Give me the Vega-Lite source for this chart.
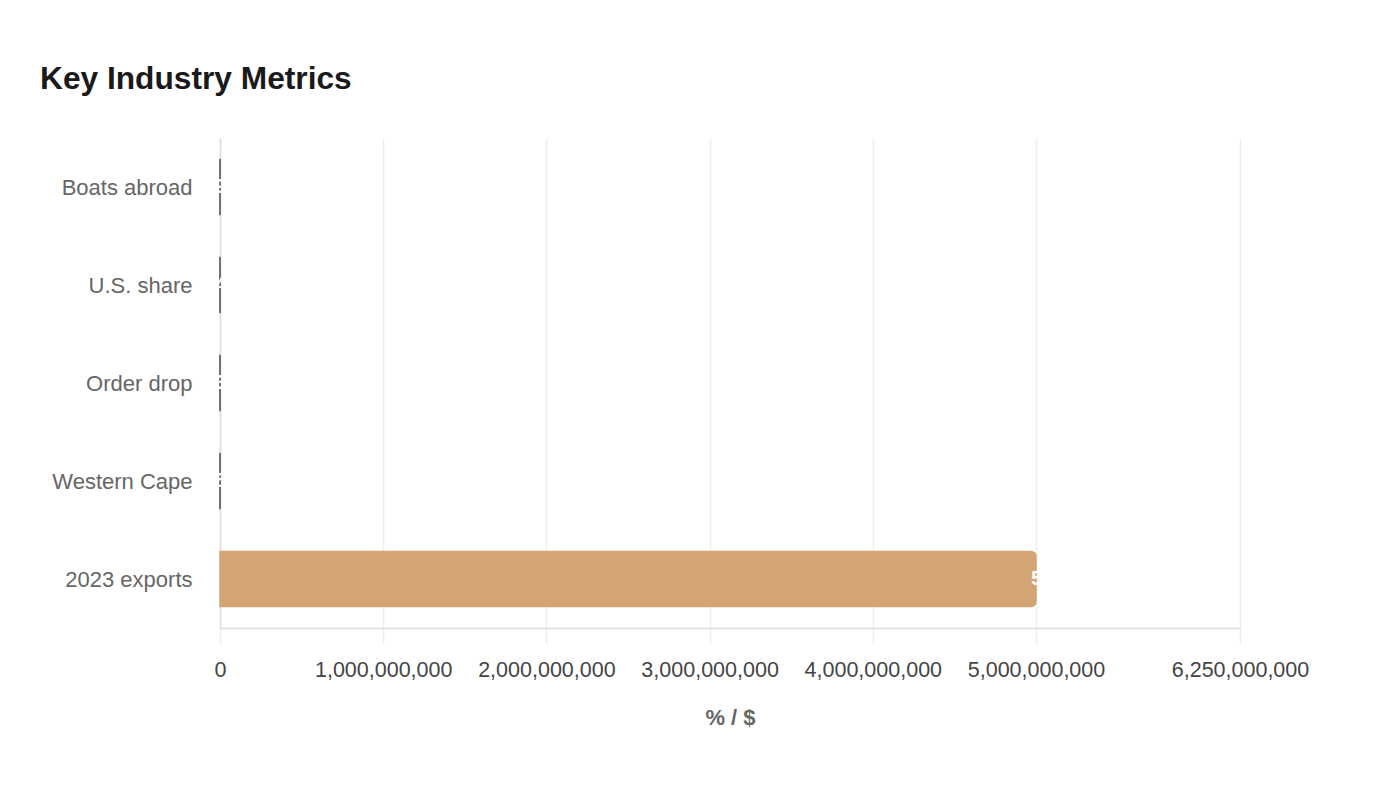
{
  "$schema": "https://vega.github.io/schema/vega-lite/v6.json",
  "autosize": {"type": "none"},
  "width": 1020,
  "height": 490,
  "padding": {"left": 220, "top": 138, "right": 160, "bottom": 172},
  "background": "white",
  "title": {
    "text": "Key Industry Metrics",
    "anchor": "start",
    "frame": "group",
    "dx": -180,
    "offset": 42,
    "fontSize": 31.7,
    "fontWeight": "bold",
    "color": "#1a1a1a",
    "font": "Liberation Sans"
  },
  "data": {
    "values": [
      {"metric": "Boats abroad", "value": 90},
      {"metric": "U.S. share", "value": 40},
      {"metric": "Order drop", "value": 30},
      {"metric": "Western Cape", "value": 85},
      {"metric": "2023 exports", "value": 5000000000}
    ]
  },
  "encoding": {
    "y": {
      "field": "metric",
      "type": "nominal",
      "sort": null,
      "title": null,
      "scale": {"paddingInner": 0.44, "paddingOuter": 0.22},
      "axis": {
        "ticks": false,
        "labelPadding": 28,
        "labelOffset": 1,
        "labelFontSize": 22,
        "labelColor": "#666666",
        "labelFont": "Liberation Sans",
        "domainColor": "#dddddd",
        "domainWidth": 1.5,
        "grid": false
      }
    },
    "x": {
      "field": "value",
      "type": "quantitative",
      "title": "% / $",
      "scale": {"domain": [0, 6250000000], "nice": false},
      "axis": {
        "values": [0, 1000000000, 2000000000, 3000000000, 4000000000, 5000000000, 6250000000],
        "format": ",d",
        "labelOverlap": false,
        "labelFlush": false,
        "labelFontSize": 21.5,
        "labelColor": "#444444",
        "labelFont": "Liberation Sans",
        "labelPadding": 15,
        "tickSize": 16,
        "tickColor": "#eeeeee",
        "tickWidth": 1.5,
        "domainColor": "#dddddd",
        "domainWidth": 1.5,
        "grid": true,
        "gridColor": "#eeeeee",
        "gridWidth": 1.5,
        "titleFontSize": 22,
        "titleFontWeight": "bold",
        "titleColor": "#666666",
        "titleFont": "Liberation Sans",
        "titlePadding": 27
      }
    }
  },
  "layer": [
    {
      "mark": {"type": "bar", "cornerRadiusEnd": 5, "strokeWidth": 1.5},
      "encoding": {
        "color": {
          "field": "metric",
          "type": "nominal",
          "legend": null,
          "scale": {
            "domain": ["Boats abroad", "U.S. share", "Order drop", "Western Cape", "2023 exports"],
            "range": ["#4a4a4a", "#4a4a4a", "#4a4a4a", "#4a4a4a", "#d4a574"]
          }
        },
        "stroke": {
          "field": "metric",
          "type": "nominal",
          "legend": null,
          "scale": {
            "domain": ["Boats abroad", "U.S. share", "Order drop", "Western Cape", "2023 exports"],
            "range": ["#4a4a4a", "#4a4a4a", "#4a4a4a", "#4a4a4a", "#d4a574"]
          }
        }
      }
    },
    {
      "mark": {
        "type": "text",
        "align": "left",
        "baseline": "middle",
        "dx": -5,
        "color": "white",
        "fontSize": 21,
        "fontWeight": "bold",
        "font": "Liberation Sans"
      },
      "encoding": {
        "text": {"field": "value", "type": "quantitative", "format": ",d"}
      }
    }
  ],
  "config": {
    "view": {"stroke": null},
    "font": "Liberation Sans"
  }
}
